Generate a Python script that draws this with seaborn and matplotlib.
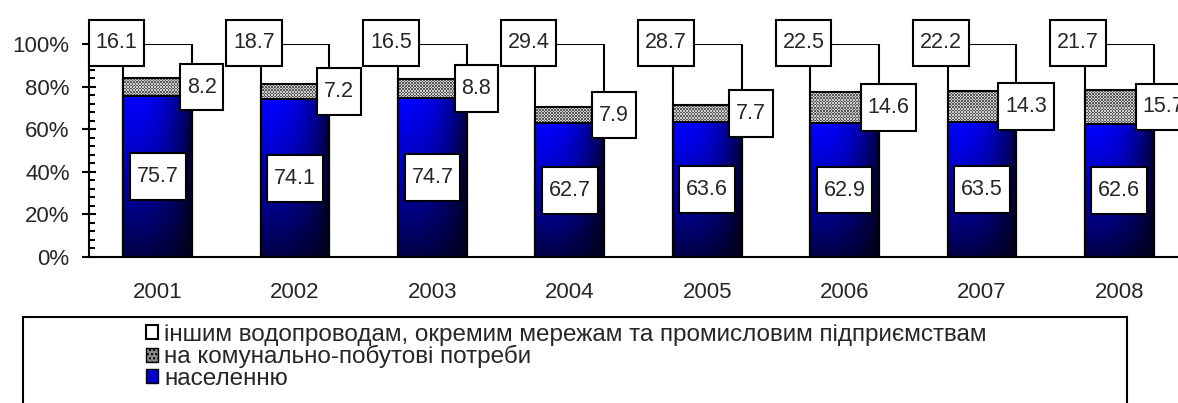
import numpy as np
import pandas as pd
import seaborn as sns
import matplotlib
matplotlib.use("Agg")
import matplotlib.pyplot as plt
from matplotlib.patches import Patch, Rectangle
from matplotlib.path import Path
from matplotlib.ticker import MultipleLocator, FuncFormatter

years = ["2001", "2002", "2003", "2004", "2005", "2006", "2007", "2008"]
population = [75.7, 74.1, 74.7, 62.7, 63.6, 62.9, 63.5, 62.6]
communal = [8.2, 7.2, 8.8, 7.9, 7.7, 14.6, 14.3, 15.7]
other = [16.1, 18.7, 16.5, 29.4, 28.7, 22.5, 22.2, 21.7]

series_names = [
    "іншим водопроводам, окремим мережам та промисловим підприємствам",
    "на комунально-побутові потреби",
    "населенню",
]

df = pd.DataFrame({"year": years, "pop": population, "com": communal, "oth": other})
df["pop_com"] = df["pop"] + df["com"]
df["total"] = df["pop_com"] + df["oth"]

sns.set_style("white")
plt.rcParams["font.family"] = ["Liberation Sans", "DejaVu Sans"]

fig = plt.figure(figsize=(11.78, 4.03), dpi=100)
ax = fig.add_axes([89 / 1178, 146 / 403, 1099 / 1178, 213 / 403])

lw = 1.5
sns.barplot(data=df, x="year", y="total", color="white", edgecolor="black",
            linewidth=lw, width=0.5, errorbar=None, ax=ax, saturation=1)
n0 = len(ax.patches)
sns.barplot(data=df, x="year", y="pop_com", color="#9a9a9a", edgecolor="black",
            linewidth=lw, width=0.5, errorbar=None, ax=ax, saturation=1)
grey_bars = ax.patches[n0:]
n1 = len(ax.patches)
sns.barplot(data=df, x="year", y="pop", color="#0000ff", edgecolor="black",
            linewidth=lw, width=0.5, errorbar=None, ax=ax, saturation=1)
blue_bars = ax.patches[n1:]

# checker texture for the communal segment
for p, lo, hi in zip(grey_bars, df["pop"], df["pop_com"]):
    x0 = p.get_x()
    x1 = x0 + p.get_width()
    rows = max(int((hi - lo) * 2.13 / 1.5), 2)
    cells = np.indices((rows, 46)).sum(axis=0) % 2
    img = np.where(cells[..., None] == 1, [0.35, 0.35, 0.35], [0.8, 0.8, 0.8])
    im = ax.imshow(img, extent=(x0, x1, lo, hi), aspect="auto",
                   interpolation="nearest", zorder=1.5)
    im.set_clip_path(p)
    p.set_facecolor("none")
    p.set_zorder(2.5)

# blue gradient for population segment
ty = np.linspace(0, 1, 200)[:, None]
tx = np.linspace(0, 1, 100)[None, :]
b = (1 - 0.72 * ty ** 1.2) * (1 - 0.75 * tx ** 2.5)
b = np.clip(b, 0.14, 1)
grad = np.dstack([np.zeros_like(b), np.zeros_like(b), b])
for p in blue_bars:
    x0 = p.get_x()
    x1 = x0 + p.get_width()
    im = ax.imshow(grad, extent=(x0, x1, 0, p.get_height()), aspect="auto",
                   interpolation="bilinear", zorder=2)
    im.set_clip_path(p)
    p.set_facecolor("none")
    p.set_zorder(2.6)

ax.set_xlim(-0.5, 7.5)
ax.set_ylim(0, 100)


def label_box(x0, y0, width, height, mutation_size):
    # square box, more padding top/bottom than left/right (Excel-like)
    hp = 0.32 * mutation_size
    vp = 0.6 * mutation_size
    xa, xb = x0 - hp, x0 + width + hp
    ya, yb = y0 - vp, y0 + height + vp
    return Path([(xa, ya), (xb, ya), (xb, yb), (xa, yb), (xa, ya)], closed=True)


box = dict(boxstyle=label_box, facecolor="white", edgecolor="black", linewidth=1.5)
fs = 16
lfs = 15.5
for i in range(len(years)):
    ax.text(i, population[i] / 2, f"{population[i]:.1f}", ha="center", va="center",
            fontsize=lfs, bbox=box, zorder=5, clip_on=False)
    ax.text(i + 0.32, population[i] + communal[i] / 2, f"{communal[i]:.1f}",
            ha="center", va="center", fontsize=lfs, bbox=box, zorder=5, clip_on=False)
    ax.text(i - 0.3, 100.5, f"{other[i]:.1f}", ha="center", va="center",
            fontsize=lfs, bbox=box, zorder=5, clip_on=False)

sns.despine(ax=ax)
for s in ["left", "bottom"]:
    ax.spines[s].set_linewidth(1.5)
    ax.spines[s].set_color("black")

ax.yaxis.set_major_locator(MultipleLocator(20))
ax.yaxis.set_minor_locator(MultipleLocator(4))
ax.yaxis.set_major_formatter(FuncFormatter(lambda v, pos: f"{v:.0f}%"))
ax.tick_params(axis="y", which="major", direction="inout", length=10, width=1.5,
               labelsize=fs, pad=9, left=True, color="black")
ax.tick_params(axis="y", which="minor", direction="in", length=4.5, width=1.5,
               left=True, color="black")
ax.tick_params(axis="x", length=0, labelsize=fs, pad=18)
ax.set_xlabel("")
ax.set_ylabel("")

# legend
fig.add_artist(Rectangle((23 / 1178, -0.1), (1127 - 23) / 1178, (403 - 317) / 403 + 0.1,
                         transform=fig.transFigure, fill=False, edgecolor="black",
                         linewidth=1.5))
handles = [
    Patch(facecolor="white", edgecolor="black", linewidth=1.5),
    Patch(facecolor="#8a8a8a", edgecolor="black", linewidth=1.0, hatch="...."),
    Patch(facecolor="#0000c8", edgecolor="black", linewidth=1.0),
]
fig.legend(handles, series_names, loc="upper left", bbox_to_anchor=(146 / 1178, 1 - 324 / 403),
           frameon=False, fontsize=17.5, handlelength=0.5, handleheight=0.5,
           handletextpad=0.25, labelspacing=-0.03, borderpad=0, borderaxespad=0)

fig.savefig("out.png", dpi=100, facecolor="white")
